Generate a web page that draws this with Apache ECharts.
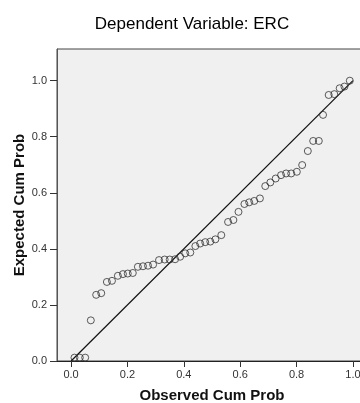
<!DOCTYPE html>
<html>
<head>
<meta charset="utf-8">
<script src="https://cdn.jsdelivr.net/npm/echarts@6/dist/echarts.min.js"></script>
<style>
html,body{margin:0;padding:0;background:#fff;}
#c{width:360px;height:403px;}
</style>
</head>
<body>
<div id="c"></div>
<script>
var titleText = "Dependent Variable: ERC";
var xName = "Observed Cum Prob";
var yName = "Expected Cum Prob";
var tickValues = [0, 0.2, 0.4, 0.6, 0.8, 1.0];
var observed = [0.012, 0.031, 0.050, 0.070, 0.089, 0.107, 0.127, 0.145, 0.166, 0.184,
  0.201, 0.219, 0.237, 0.255, 0.273, 0.291, 0.312, 0.332, 0.350, 0.369,
  0.387, 0.405, 0.423, 0.441, 0.458, 0.476, 0.494, 0.512, 0.533, 0.557,
  0.576, 0.594, 0.615, 0.632, 0.650, 0.670, 0.689, 0.707, 0.726, 0.745,
  0.763, 0.781, 0.801, 0.820, 0.840, 0.859, 0.879, 0.894, 0.914, 0.934,
  0.953, 0.970, 0.989];
var expected = [0.012, 0.012, 0.012, 0.145, 0.236, 0.242, 0.282, 0.286, 0.304, 0.310,
  0.312, 0.314, 0.336, 0.338, 0.340, 0.344, 0.360, 0.362, 0.362, 0.363,
  0.372, 0.384, 0.387, 0.410, 0.419, 0.424, 0.426, 0.434, 0.449, 0.496,
  0.503, 0.532, 0.560, 0.566, 0.571, 0.580, 0.624, 0.637, 0.651, 0.663,
  0.669, 0.669, 0.675, 0.699, 0.749, 0.785, 0.785, 0.878, 0.949, 0.952,
  0.973, 0.979, 1.000];
var refLine = [[0, 0], [1, 1]];

var pts = observed.map(function (v, i) { return [v, expected[i]]; });
var fontFam = '"Liberation Sans", Arial, sans-serif';

var chart = echarts.init(document.getElementById('c'), null, {renderer: 'canvas'});
chart.setOption({
  animation: false,
  backgroundColor: '#ffffff',
  title: {
    text: titleText,
    left: 187, top: 11, textAlign: 'center',
    textStyle: {fontFamily: fontFam, fontSize: 17, fontWeight: 'normal', color: '#000'}
  },
  grid: {
    left: 57, right: -7, top: 49, bottom: 42,
    containLabel: false, outerBoundsMode: 'none',
    show: true, backgroundColor: '#f0f0f0', borderColor: '#444', borderWidth: 1
  },
  xAxis: {
    type: 'value', min: -0.05, max: 1.05,
    name: xName, nameLocation: 'middle', nameGap: 27,
    nameTextStyle: {fontFamily: fontFam, fontSize: 15, fontWeight: 'bold', color: '#111'},
    axisLine: {show: true, onZero: false, lineStyle: {color: '#222', width: 1}},
    axisTick: {show: true, length: 6, customValues: tickValues, lineStyle: {color: '#333'}},
    axisLabel: {customValues: tickValues, margin: 8, fontFamily: fontFam, fontSize: 11, color: '#333',
      formatter: function (v) { return v.toFixed(1); }},
    splitLine: {show: false}
  },
  yAxis: {
    type: 'value', min: 0, max: 1.113,
    name: yName, nameLocation: 'middle', nameGap: 30, nameRotate: 90, nameMoveOverlap: false,
    nameTextStyle: {fontFamily: fontFam, fontSize: 15, fontWeight: 'bold', color: '#111'},
    axisLine: {show: true, onZero: false, lineStyle: {color: '#555', width: 1}},
    axisTick: {show: true, length: 7, customValues: tickValues, lineStyle: {color: '#333'}},
    axisLabel: {customValues: tickValues, margin: 10, fontFamily: fontFam, fontSize: 11, color: '#333',
      formatter: function (v) { return v.toFixed(1); }},
    splitLine: {show: false}
  },
  series: [
    {
      type: 'line', data: refLine, symbol: 'none', silent: true,
      lineStyle: {color: '#111', width: 1.2}, z: 2
    },
    {
      type: 'scatter', data: pts, symbol: 'circle', symbolSize: 7,
      itemStyle: {color: 'rgba(0,0,0,0)', borderColor: '#333', borderWidth: 1}, z: 3
    }
  ]
});
</script>
</body>
</html>
